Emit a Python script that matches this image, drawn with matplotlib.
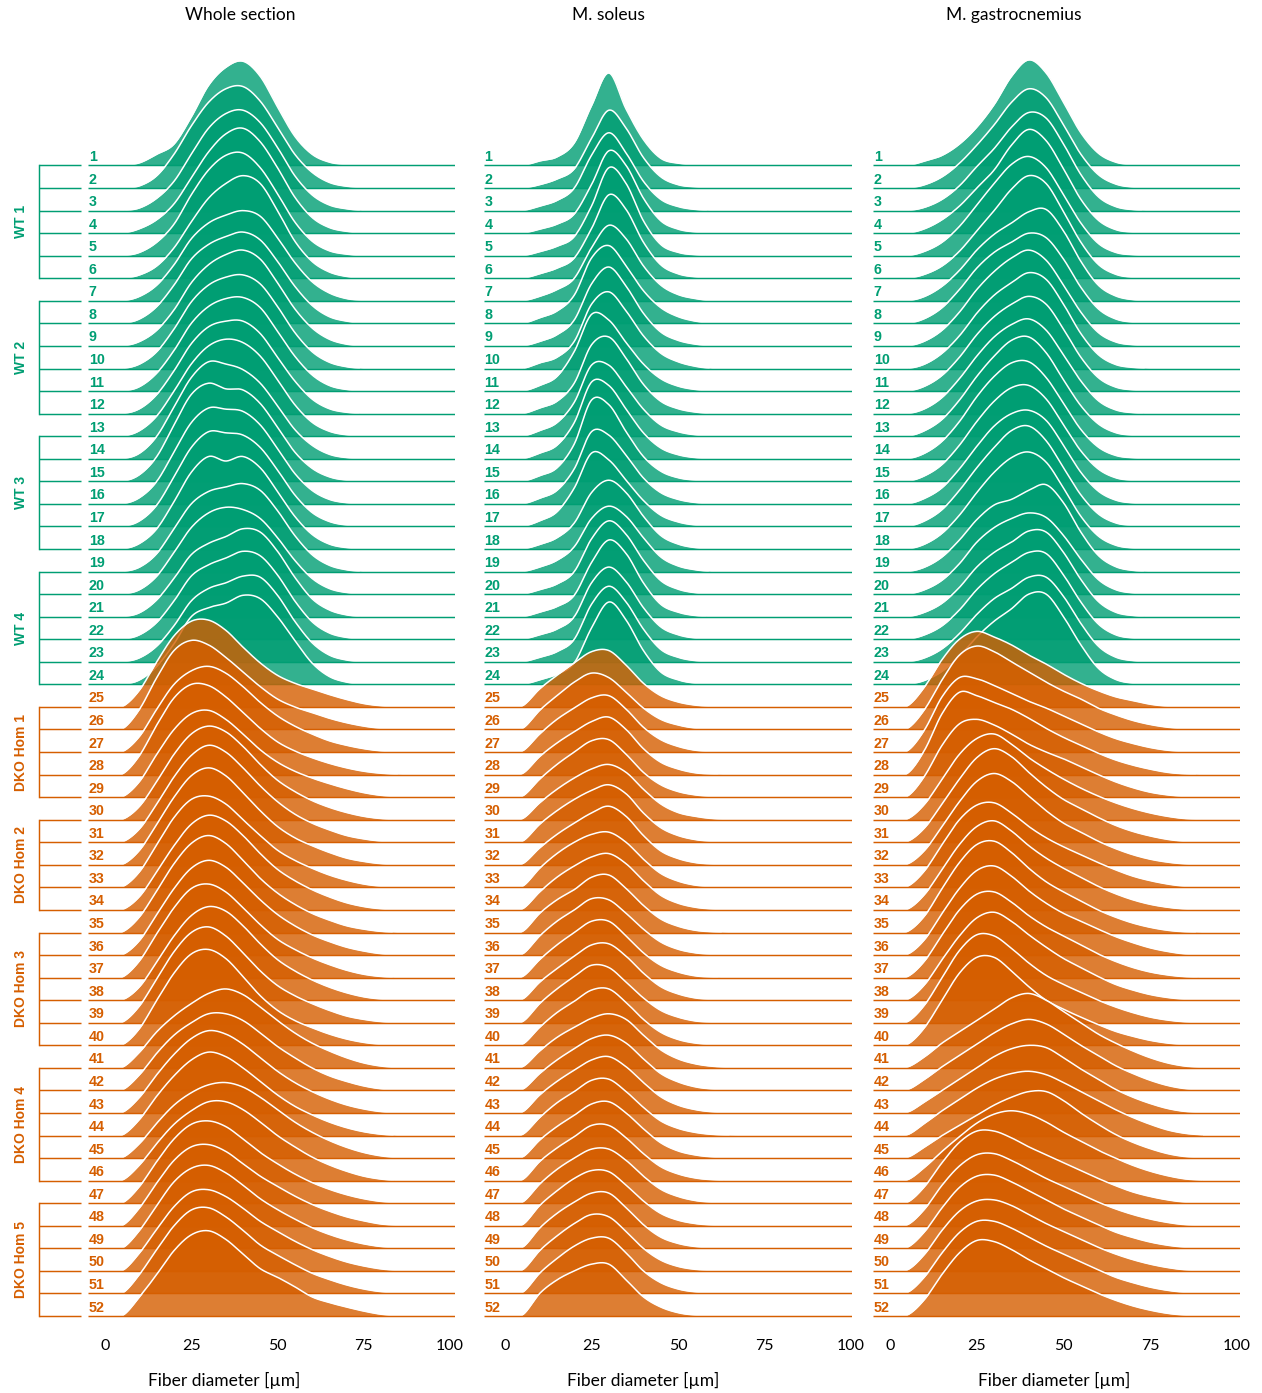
import matplotlib

matplotlib.use("Agg")
import matplotlib.pyplot as plt
import numpy as np

GREEN = "#009E73"
ORANGE = "#D55E00"

# fiber diameter grid (µm) at which each ridge height is given
diameter_um = [0, 5, 10, 15, 20, 25, 30, 35, 40, 45, 50, 55, 60, 65, 70, 75, 80, 85, 90]

sample_ids = list(range(1, 53))
n_wt = 24

group_names = ["WT 1", "WT 2", "WT 3", "WT 4",
               "DKO Hom 1", "DKO Hom 2", "DKO Hom 3", "DKO Hom 4", "DKO Hom 5"]
group_first = [1, 7, 13, 19, 25, 30, 35, 41, 47]
group_last = [6, 12, 18, 24, 29, 34, 40, 46, 52]

panel_titles = ["Whole section", "M. soleus", "M. gastrocnemius"]
tick_values = [0, 25, 50, 75, 100]
x_label = "Fiber diameter [µm]"

# ridge heights in row units (1 = spacing between two baselines)
whole_wt = [
    [0, 0, .12, .5, .95, 2.15, 3.55, 4.35, 4.62, 3.95, 2.6, 1.3, .5, .15, .04],
    [0, 0, .1, .55, 1.5, 2.75, 3.8, 4.4, 4.5, 3.85, 2.7, 1.5, .7, .25, .08, .02],
    [0, 0, .12, .55, 1.3, 2.5, 3.65, 4.3, 4.45, 3.9, 2.8, 1.55, .7, .25, .08],
    [0, 0, .2, .6, 1.3, 2.45, 3.6, 4.4, 4.65, 4.05, 2.9, 1.6, .7, .25, .08],
    [0, 0, .15, .6, 1.4, 2.7, 3.8, 4.45, 4.55, 3.9, 2.75, 1.5, .65, .22, .07],
    [0, 0, .15, .55, 1.35, 2.5, 3.55, 4.2, 4.55, 4.2, 3.0, 1.65, .75, .28, .08],
    [0, 0, .2, .7, 1.6, 2.75, 3.45, 3.8, 4.0, 3.75, 2.8, 1.7, .85, .35, .1, .02],
    [0, 0, .2, .75, 1.7, 2.85, 3.5, 3.85, 4.05, 3.7, 2.75, 1.65, .8, .3, .1],
    [0, 0, .2, .7, 1.6, 2.8, 3.6, 4.05, 4.25, 3.85, 2.8, 1.65, .8, .3, .08],
    [0, 0, .2, .75, 1.75, 2.95, 3.7, 4.05, 4.15, 3.75, 2.75, 1.6, .75, .28, .08],
    [0, 0, .2, .8, 1.8, 3.0, 3.75, 4.1, 4.15, 3.7, 2.65, 1.55, .72, .25, .07],
    [0, 0, .22, .85, 1.9, 3.1, 3.85, 4.1, 4.1, 3.55, 2.5, 1.45, .65, .22, .06],
    [0, 0, .25, .9, 2.0, 3.2, 4.0, 4.3, 4.15, 3.55, 2.5, 1.4, .62, .22, .06],
    [0, 0, .25, 1.0, 2.3, 3.6, 4.3, 4.2, 3.95, 3.35, 2.35, 1.3, .6, .2, .05],
    [0, 0, .3, 1.1, 2.5, 3.85, 4.35, 4.1, 4.05, 3.45, 2.4, 1.3, .58, .2, .05],
    [0, 0, .28, 1.0, 2.3, 3.6, 4.25, 4.2, 4.1, 3.5, 2.45, 1.35, .6, .2, .05],
    [0, 0, .25, .95, 2.2, 3.5, 4.2, 4.15, 4.05, 3.5, 2.5, 1.4, .62, .22, .06],
    [0, 0, .25, .9, 2.1, 3.4, 4.1, 3.9, 4.1, 3.6, 2.55, 1.45, .65, .22, .06],
    [0, 0, .2, .8, 1.9, 3.0, 3.55, 3.75, 3.9, 3.6, 2.7, 1.6, .75, .28, .08],
    [0, 0, .2, .8, 1.85, 2.95, 3.6, 3.85, 3.75, 3.35, 2.5, 1.5, .7, .25, .07],
    [0, 0, .18, .75, 1.7, 2.75, 3.25, 3.55, 3.9, 3.75, 2.9, 1.75, .8, .3, .08],
    [0, 0, .2, .75, 1.7, 2.8, 3.3, 3.6, 3.9, 3.7, 2.85, 1.7, .78, .28, .08],
    [0, 0, .18, .7, 1.6, 2.7, 3.25, 3.5, 3.8, 3.75, 2.95, 1.8, .85, .3, .08],
    [0, 0, .2, .8, 1.8, 3.0, 3.4, 3.6, 3.95, 3.8, 3.0, 1.95, .95, .35, .1],
]

whole_dko = [
    [0, .02, .75, 2.0, 3.15, 3.8, 3.85, 3.4, 2.65, 1.95, 1.4, 1.05, .8, .55, .33, .15, .05],
    [0, .03, .9, 2.3, 3.5, 3.95, 3.75, 3.2, 2.55, 1.9, 1.35, 1.0, .75, .5, .3, .15, .05],
    [0, .02, .7, 1.9, 3.0, 3.6, 3.8, 3.5, 2.9, 2.2, 1.6, 1.15, .8, .5, .3, .15, .05],
    [0, .03, .85, 2.2, 3.4, 4.0, 3.95, 3.45, 2.75, 2.05, 1.45, 1.05, .75, .5, .3, .15, .06, .01],
    [0, .02, .7, 1.9, 3.0, 3.7, 3.85, 3.45, 2.8, 2.1, 1.55, 1.15, .85, .6, .38, .2, .08, .02],
    [0, .02, .6, 1.7, 2.9, 3.8, 4.15, 3.9, 3.25, 2.45, 1.75, 1.25, .85, .55, .32, .15, .05],
    [0, .02, .6, 1.7, 2.9, 3.85, 4.3, 4.0, 3.3, 2.5, 1.8, 1.25, .85, .55, .3, .15, .05],
    [0, .02, .65, 1.8, 3.0, 3.95, 4.3, 3.95, 3.2, 2.4, 1.7, 1.2, .85, .55, .3, .15, .05],
    [0, .03, .7, 1.9, 3.1, 3.9, 4.05, 3.7, 3.0, 2.3, 1.65, 1.2, .85, .55, .32, .15, .05],
    [0, .02, .6, 1.7, 2.85, 3.8, 4.2, 3.95, 3.3, 2.5, 1.8, 1.3, .9, .58, .32, .15, .05],
    [0, .03, .7, 1.85, 3.05, 3.95, 4.3, 3.95, 3.2, 2.4, 1.75, 1.25, .85, .55, .3, .15, .05],
    [0, .02, .65, 1.8, 2.95, 3.85, 4.2, 3.9, 3.2, 2.45, 1.8, 1.3, .9, .6, .35, .18, .06],
    [0, .03, .75, 1.95, 3.1, 3.95, 4.15, 3.8, 3.1, 2.35, 1.7, 1.25, .88, .58, .33, .15, .05],
    [0, .02, .6, 1.7, 2.85, 3.75, 4.15, 3.95, 3.3, 2.5, 1.8, 1.3, .9, .58, .33, .15, .05],
    [0, .03, .75, 1.95, 3.15, 4.0, 4.25, 3.85, 3.1, 2.3, 1.65, 1.2, .85, .55, .3, .15, .05],
    [0, .03, .75, 2.0, 3.2, 4.05, 4.25, 3.85, 3.05, 2.2, 1.55, 1.1, .78, .5, .28, .13, .04],
    [0, .03, .7, 1.6, 2.3, 2.85, 3.3, 3.5, 3.25, 2.7, 2.1, 1.55, 1.1, .75, .45, .22, .08, .01],
    [0, .03, .7, 1.65, 2.45, 3.0, 3.4, 3.4, 3.1, 2.55, 1.95, 1.45, 1.0, .65, .4, .2, .07],
    [0, .03, .7, 1.7, 2.6, 3.3, 3.65, 3.5, 3.05, 2.45, 1.85, 1.35, .95, .62, .36, .18, .06],
    [0, .03, .72, 1.75, 2.65, 3.35, 3.7, 3.5, 3.0, 2.4, 1.8, 1.3, .92, .6, .35, .17, .06],
    [0, .03, .65, 1.55, 2.35, 2.9, 3.25, 3.35, 3.15, 2.7, 2.15, 1.6, 1.15, .78, .48, .25, .1, .02],
    [0, .03, .7, 1.65, 2.5, 3.1, 3.5, 3.5, 3.15, 2.6, 2.0, 1.5, 1.05, .7, .42, .2, .07],
    [0, .02, .75, 1.85, 2.85, 3.5, 3.65, 3.4, 2.85, 2.25, 1.75, 1.3, .92, .62, .38, .2, .08, .02],
    [0, .02, .8, 1.9, 2.9, 3.5, 3.6, 3.3, 2.75, 2.2, 1.75, 1.32, .95, .65, .4, .22, .08, .02],
    [0, .02, .8, 1.9, 2.95, 3.55, 3.68, 3.35, 2.8, 2.2, 1.72, 1.3, .92, .62, .38, .2, .08, .02],
    [0, .02, .8, 1.85, 2.85, 3.5, 3.6, 3.3, 2.78, 2.2, 1.75, 1.32, .95, .65, .4, .22, .09, .02],
    [0, .02, .85, 1.95, 3.0, 3.7, 3.8, 3.4, 2.8, 2.15, 1.7, 1.28, .9, .62, .38, .2, .08, .02],
    [0, .02, .85, 1.85, 2.9, 3.6, 3.78, 3.4, 2.75, 2.1, 1.72, 1.3, .85, .6, .4, .22, .08, .01],
]

soleus_wt = [
    [0, 0, .2, .38, 1.0, 2.65, 4.1, 2.5, 1.15, .32, .1, .03],
    [0, 0, .15, .4, .85, 2.2, 3.45, 2.65, 1.35, .5, .15, .05],
    [0, 0, .2, .45, 1.0, 2.45, 3.45, 2.55, 1.3, .5, .18, .05],
    [0, 0, .18, .4, .85, 2.15, 3.65, 3.0, 1.55, .55, .18, .05],
    [0, 0, .18, .42, .85, 2.2, 3.9, 3.2, 1.55, .5, .15, .04],
    [0, 0, .2, .45, .9, 2.2, 3.7, 3.05, 1.6, .6, .2, .06],
    [0, 0, .2, .5, 1.0, 2.35, 3.35, 2.75, 1.55, .7, .28, .1],
    [0, 0, .25, .55, 1.25, 2.9, 3.45, 2.55, 1.45, .7, .3, .1],
    [0, 0, .2, .5, 1.15, 2.75, 3.5, 2.65, 1.45, .62, .25, .08],
    [0, 0, .25, .5, 1.2, 2.85, 3.4, 2.55, 1.45, .68, .3, .1],
    [0, 0, .25, .65, 1.75, 3.4, 3.15, 2.15, 1.2, .55, .22, .07],
    [0, 0, .25, .55, 1.35, 3.05, 3.4, 2.45, 1.3, .55, .22, .07],
    [0, 0, .25, .6, 1.5, 3.15, 3.15, 2.2, 1.2, .5, .2, .06],
    [0, 0, .25, .6, 1.6, 3.4, 3.25, 2.2, 1.15, .48, .18, .05],
    [0, 0, .25, .6, 1.65, 3.6, 3.4, 2.2, 1.1, .45, .16, .05],
    [0, 0, .25, .6, 1.55, 3.2, 3.05, 2.15, 1.15, .5, .2, .06],
    [0, 0, .25, .65, 1.7, 3.25, 2.95, 2.05, 1.15, .5, .2, .06],
    [0, 0, .2, .5, 1.15, 2.5, 3.05, 2.5, 1.45, .6, .22, .06],
    [0, 0, .2, .5, 1.1, 2.35, 2.9, 2.45, 1.5, .65, .25, .08],
    [0, 0, .2, .45, 1.0, 2.45, 3.25, 2.65, 1.5, .6, .22, .06],
    [0, 0, .2, .45, .95, 2.4, 3.4, 2.8, 1.5, .55, .2, .05],
    [0, 0, .2, .45, 1.0, 2.5, 3.2, 2.55, 1.4, .55, .2, .05],
    [0, 0, .2, .45, 1.0, 2.55, 3.35, 2.65, 1.45, .55, .2, .05],
    [0, 0, .2, .45, .95, 2.5, 3.65, 2.85, 1.5, .55, .2, .05],
]

soleus_dko = [
    [0, .05, .8, 1.4, 1.95, 2.45, 2.5, 1.85, 1.05, .5, .22, .08, .02],
    [0, .05, .85, 1.5, 2.1, 2.5, 2.3, 1.65, .95, .45, .2, .06],
    [0, .05, .8, 1.45, 1.95, 2.4, 2.5, 1.9, 1.1, .55, .25, .08, .02],
    [0, .05, .8, 1.4, 1.9, 2.35, 2.55, 2.0, 1.15, .55, .25, .08, .02],
    [0, .05, .8, 1.45, 2.0, 2.5, 2.55, 1.9, 1.1, .55, .25, .1, .03],
    [0, .05, .75, 1.35, 1.85, 2.25, 2.45, 2.1, 1.35, .7, .32, .15, .05, .01],
    [0, .05, .8, 1.4, 1.9, 2.3, 2.55, 2.15, 1.3, .65, .3, .12, .04],
    [0, .05, .75, 1.35, 1.85, 2.3, 2.6, 2.15, 1.3, .62, .28, .1, .03],
    [0, .05, .85, 1.5, 2.0, 2.35, 2.45, 2.0, 1.25, .62, .28, .1, .03],
    [0, .05, .8, 1.45, 1.95, 2.35, 2.5, 2.05, 1.3, .65, .3, .12, .04],
    [0, .05, .85, 1.45, 1.9, 2.45, 2.55, 1.95, 1.2, .6, .28, .1, .03],
    [0, .05, .85, 1.5, 2.0, 2.5, 2.45, 1.85, 1.15, .58, .26, .1, .03],
    [0, .05, .8, 1.45, 2.0, 2.5, 2.5, 1.85, 1.1, .55, .25, .08, .02],
    [0, .05, .8, 1.4, 1.95, 2.45, 2.5, 1.95, 1.2, .6, .28, .1, .03],
    [0, .05, .85, 1.5, 2.05, 2.55, 2.45, 1.8, 1.1, .55, .25, .08, .02],
    [0, .05, .8, 1.45, 1.95, 2.45, 2.5, 1.9, 1.15, .58, .26, .1, .03],
    [0, .05, .75, 1.35, 1.8, 2.2, 2.4, 2.15, 1.45, .8, .4, .18, .07, .02],
    [0, .05, .75, 1.35, 1.85, 2.3, 2.45, 2.1, 1.4, .75, .38, .16, .06, .02],
    [0, .05, .8, 1.4, 1.9, 2.35, 2.5, 2.05, 1.35, .72, .35, .15, .05, .01],
    [0, .05, .8, 1.45, 1.95, 2.45, 2.5, 1.95, 1.25, .65, .32, .14, .05, .01],
    [0, .05, .8, 1.4, 1.9, 2.4, 2.5, 2.0, 1.3, .68, .32, .14, .05, .01],
    [0, .05, .85, 1.45, 1.95, 2.45, 2.45, 1.9, 1.2, .62, .3, .12, .04],
    [0, .05, .85, 1.5, 2.0, 2.4, 2.4, 1.9, 1.2, .62, .3, .12, .04],
    [0, .05, .9, 1.55, 2.1, 2.45, 2.4, 1.8, 1.1, .55, .25, .1, .03],
    [0, .05, .9, 1.55, 2.05, 2.45, 2.45, 1.8, 1.05, .5, .22, .08, .02],
    [0, .05, .9, 1.55, 2.1, 2.5, 2.4, 1.75, 1.0, .48, .2, .07, .02],
    [0, .05, .9, 1.55, 2.1, 2.45, 2.45, 1.8, 1.0, .48, .2, .07, .02],
    [0, .05, 1.0, 1.6, 2.0, 2.3, 2.3, 1.6, .85, .4, .15, .04],
]

gastro_wt = [
    [0, 0, .2, .45, .95, 1.7, 2.7, 3.95, 4.68, 4.1, 2.8, 1.45, .55, .15, .03],
    [0, 0, .15, .5, 1.1, 1.9, 2.8, 3.8, 4.4, 4.0, 2.8, 1.5, .6, .18, .04],
    [0, 0, .15, .5, 1.1, 1.95, 2.75, 3.7, 4.35, 4.1, 2.95, 1.6, .62, .18, .04],
    [0, 0, .2, .6, 1.2, 2.0, 2.8, 3.9, 4.6, 4.1, 2.85, 1.5, .58, .16, .04],
    [0, 0, .2, .6, 1.3, 2.25, 3.2, 4.05, 4.4, 3.9, 2.7, 1.45, .55, .15, .04],
    [0, 0, .18, .55, 1.2, 2.1, 3.0, 3.95, 4.55, 4.2, 2.95, 1.6, .62, .18, .04],
    [0, 0, .2, .65, 1.35, 2.25, 2.95, 3.45, 3.95, 4.05, 3.1, 1.75, .7, .22, .05],
    [0, 0, .22, .7, 1.5, 2.45, 3.15, 3.6, 4.0, 3.8, 2.85, 1.6, .65, .2, .05],
    [0, 0, .22, .7, 1.5, 2.5, 3.3, 3.9, 4.25, 3.8, 2.7, 1.5, .6, .18, .05],
    [0, 0, .2, .68, 1.45, 2.45, 3.25, 3.8, 4.25, 3.95, 2.85, 1.55, .62, .18, .05],
    [0, 0, .22, .7, 1.5, 2.5, 3.3, 3.85, 4.2, 3.85, 2.75, 1.5, .6, .18, .05],
    [0, 0, .22, .72, 1.55, 2.55, 3.4, 3.95, 4.2, 3.7, 2.6, 1.45, .58, .17, .04],
    [0, 0, .25, .75, 1.6, 2.65, 3.55, 4.25, 4.4, 3.7, 2.5, 1.35, .55, .16, .04],
    [0, 0, .25, .78, 1.65, 2.75, 3.65, 4.25, 4.3, 3.6, 2.45, 1.3, .52, .15, .04],
    [0, 0, .25, .75, 1.6, 2.65, 3.55, 4.15, 4.25, 3.65, 2.5, 1.35, .55, .16, .04],
    [0, 0, .25, .72, 1.55, 2.55, 3.45, 4.0, 4.15, 3.7, 2.6, 1.4, .57, .17, .04],
    [0, 0, .25, .75, 1.6, 2.6, 3.5, 4.25, 4.45, 3.8, 2.6, 1.4, .56, .16, .04],
    [0, 0, .22, .7, 1.5, 2.5, 3.4, 4.05, 4.3, 3.85, 2.7, 1.45, .58, .17, .04],
    [0, 0, .2, .65, 1.4, 2.3, 2.95, 3.2, 3.6, 3.85, 3.05, 1.75, .72, .22, .05],
    [0, 0, .2, .62, 1.35, 2.3, 2.95, 3.35, 3.6, 3.4, 2.6, 1.55, .65, .2, .05],
    [0, 0, .2, .6, 1.3, 2.2, 2.85, 3.3, 3.8, 3.75, 2.85, 1.65, .68, .2, .05],
    [0, 0, .2, .6, 1.3, 2.2, 2.9, 3.4, 3.85, 3.8, 2.85, 1.65, .68, .2, .05],
    [0, 0, .18, .58, 1.25, 2.1, 2.8, 3.25, 3.75, 3.75, 2.9, 1.7, .7, .21, .05],
    [0, 0, .18, .58, 1.25, 2.1, 2.8, 3.35, 4.0, 4.0, 3.0, 1.75, .72, .22, .05],
]

gastro_dko = [
    [0, .05, .9, 2.1, 3.0, 3.35, 3.1, 2.75, 2.3, 1.9, 1.45, 1.05, .72, .45, .28, .12, .03],
    [0, .05, .9, 2.2, 3.3, 3.7, 3.45, 3.0, 2.55, 2.1, 1.7, 1.35, .95, .65, .4, .22, .1, .03],
    [0, .06, 1.0, 2.45, 3.3, 3.25, 2.95, 2.6, 2.25, 1.95, 1.6, 1.25, .9, .6, .38, .2, .08, .02],
    [0, .06, 1.1, 2.7, 3.65, 3.5, 3.2, 2.9, 2.5, 2.05, 1.65, 1.3, .95, .65, .42, .24, .1, .03],
    [0, .05, .95, 2.3, 3.25, 3.45, 3.2, 2.8, 2.35, 2.0, 1.7, 1.35, 1.0, .68, .42, .22, .1, .03],
    [0, .04, .7, 1.8, 2.9, 3.6, 3.8, 3.35, 2.75, 2.25, 1.8, 1.4, 1.05, .75, .5, .3, .15, .05, .01],
    [0, .04, .65, 1.7, 2.8, 3.75, 4.15, 3.8, 3.1, 2.45, 1.9, 1.5, 1.1, .75, .48, .28, .13, .04],
    [0, .04, .65, 1.7, 2.8, 3.7, 4.05, 3.7, 3.05, 2.4, 1.85, 1.45, 1.05, .72, .45, .25, .12, .04],
    [0, .05, .75, 1.9, 3.0, 3.65, 3.75, 3.3, 2.7, 2.2, 1.8, 1.45, 1.1, .78, .5, .3, .15, .05, .01],
    [0, .04, .7, 1.8, 2.9, 3.7, 3.95, 3.5, 2.85, 2.3, 1.85, 1.45, 1.05, .72, .45, .25, .12, .04],
    [0, .05, .75, 1.95, 3.1, 3.9, 4.05, 3.55, 2.85, 2.25, 1.8, 1.4, 1.0, .68, .42, .23, .1, .03],
    [0, .04, .7, 1.85, 2.95, 3.75, 3.95, 3.5, 2.85, 2.3, 1.85, 1.5, 1.15, .82, .55, .32, .16, .05, .01],
    [0, .05, .75, 1.9, 3.0, 3.7, 3.8, 3.35, 2.75, 2.25, 1.85, 1.45, 1.05, .72, .45, .25, .12, .04],
    [0, .04, .7, 1.8, 2.85, 3.65, 3.9, 3.5, 2.9, 2.35, 1.85, 1.45, 1.05, .7, .45, .25, .12, .04],
    [0, .05, .8, 2.0, 3.2, 3.9, 3.85, 3.3, 2.65, 2.1, 1.7, 1.35, 1.0, .7, .45, .25, .12, .04],
    [0, .05, .8, 2.0, 3.2, 3.9, 3.9, 3.3, 2.6, 2.0, 1.6, 1.25, .92, .62, .4, .22, .1, .03],
    [0, .04, .5, 1.1, 1.6, 2.1, 2.6, 3.1, 3.3, 3.0, 2.5, 2.0, 1.5, 1.1, .75, .45, .22, .08, .02],
    [0, .04, .5, 1.05, 1.55, 2.05, 2.55, 2.95, 3.15, 2.95, 2.5, 2.0, 1.55, 1.1, .75, .45, .22, .08, .02],
    [0, .04, .5, 1.0, 1.5, 2.0, 2.5, 2.85, 3.0, 2.9, 2.45, 1.95, 1.5, 1.05, .7, .42, .2, .07, .02],
    [0, .04, .55, 1.1, 1.6, 2.1, 2.5, 2.75, 2.85, 2.7, 2.35, 1.95, 1.55, 1.15, .8, .5, .25, .1, .03],
    [0, .04, .5, 1.0, 1.45, 1.9, 2.35, 2.7, 2.95, 2.95, 2.55, 2.0, 1.5, 1.05, .7, .42, .2, .07, .02],
    [0, .04, .6, 1.3, 1.95, 2.55, 2.95, 3.1, 2.95, 2.6, 2.15, 1.75, 1.35, 1.0, .68, .42, .22, .08, .02],
    [0, .05, .75, 1.8, 2.7, 3.2, 3.2, 2.9, 2.5, 2.15, 1.8, 1.45, 1.1, .78, .5, .3, .15, .05, .01],
    [0, .05, .75, 1.8, 2.65, 3.15, 3.2, 2.9, 2.5, 2.1, 1.75, 1.4, 1.05, .75, .5, .3, .15, .05, .01],
    [0, .05, .75, 1.8, 2.7, 3.2, 3.25, 2.95, 2.55, 2.15, 1.75, 1.4, 1.05, .72, .48, .28, .14, .05, .01],
    [0, .05, .75, 1.8, 2.65, 3.1, 3.15, 2.9, 2.5, 2.1, 1.75, 1.4, 1.05, .75, .5, .3, .15, .05, .01],
    [0, .05, .75, 1.8, 2.7, 3.2, 3.2, 2.9, 2.5, 2.1, 1.75, 1.4, 1.05, .72, .48, .28, .14, .05, .01],
    [0, .05, .75, 1.85, 2.8, 3.35, 3.3, 2.95, 2.5, 2.1, 1.7, 1.35, 1.0, .7, .45, .26, .12, .04],
]

panel_profiles = [whole_wt + whole_dko, soleus_wt + soleus_dko, gastro_wt + gastro_dko]

# page layout in pixels (figure is 1262 x 1393 px)
FIG_W, FIG_H = 1262, 1393
ROW_PX = 22.56
FIRST_BASE_PX = 165.5
AX_TOP_PX, AX_BOTTOM_PX = 40, 1325
panel_zero_px = [105, 505, 890]
panel_px_per_um = [3.45, 3.46, 3.47]
panel_xlim = [(-5, 101.5), (-6.2, 100.2), (-5, 101)]
title_x_px = [240, 608, 1014]
xlabel_x_px = [224, 643, 1054]

LABEL_FONT = ["Liberation Sans", "DejaVu Sans"]
TEXT_FONT = ["Lato", "DejaVu Sans"]


def smooth_profile(xs, heights, step=0.25):
    """Cubic Hermite (Catmull-Rom) curve through the sampled heights."""
    xs = np.asarray(xs, float)
    ys = np.zeros(len(xs))
    ys[:len(heights)] = heights
    slopes = np.gradient(ys, xs)
    xf = np.arange(xs[0], xs[-1] + step / 2, step)
    i = np.clip(np.searchsorted(xs, xf, side="right") - 1, 0, len(xs) - 2)
    h = xs[i + 1] - xs[i]
    t = (xf - xs[i]) / h
    h00 = 2 * t**3 - 3 * t**2 + 1
    h10 = t**3 - 2 * t**2 + t
    h01 = -2 * t**3 + 3 * t**2
    h11 = t**3 - t**2
    yf = h00 * ys[i] + h10 * h * slopes[i] + h01 * ys[i + 1] + h11 * h * slopes[i + 1]
    return xf, np.clip(yf, 0, None)


def draw_panel(ax, profiles, x_min, x_max):
    for k, prof in enumerate(profiles):
        base = -k
        color = GREEN if k < n_wt else ORANGE
        xf, hf = smooth_profile(diameter_um, prof)
        z = 3 * k + 2
        ax.fill_between(xf, base, base + hf, color=color, alpha=0.8, lw=0, zorder=z)
        ax.plot(xf, np.where(hf > 0.01, base + hf, np.nan), color="white", lw=1.1,
                zorder=z + 1, solid_capstyle="round")
        ax.plot([x_min, x_max], [base, base], color=color, lw=1.05, zorder=z + 2,
                solid_capstyle="butt")
        ax.text(x_min + 0.3, base + 0.2, str(sample_ids[k]), color=color,
                fontsize=10.3, fontweight="bold", family=LABEL_FONT,
                ha="left", va="baseline", zorder=500)


fig = plt.figure(figsize=(FIG_W / 100, FIG_H / 100), dpi=100)
y_top = (FIRST_BASE_PX - AX_TOP_PX) / ROW_PX
y_bottom = (FIRST_BASE_PX - AX_BOTTOM_PX) / ROW_PX

axes = []
for p in range(3):
    x_min, x_max = panel_xlim[p]
    left_px = panel_zero_px[p] + x_min * panel_px_per_um[p]
    width_px = (x_max - x_min) * panel_px_per_um[p]
    ax = fig.add_axes([left_px / FIG_W, 1 - AX_BOTTOM_PX / FIG_H,
                       width_px / FIG_W, (AX_BOTTOM_PX - AX_TOP_PX) / FIG_H])
    ax.set_xlim(x_min, x_max)
    ax.set_ylim(y_bottom, y_top)
    draw_panel(ax, panel_profiles[p], x_min, x_max)
    ax.set_xticks(tick_values)
    ax.set_xticklabels([str(v) for v in tick_values], family=TEXT_FONT, fontsize=11.5)
    ax.tick_params(axis="x", length=0, pad=10)
    ax.set_yticks([])
    for side in ax.spines.values():
        side.set_visible(False)
    fig.text(title_x_px[p] / FIG_W, 1 - 15 / FIG_H, panel_titles[p], family=TEXT_FONT,
             fontsize=12.5, ha="center", va="center")
    fig.text(xlabel_x_px[p] / FIG_W, 1 - 1380 / FIG_H, x_label, family=TEXT_FONT,
             fontsize=12.5, ha="center", va="center")
    axes.append(ax)

# sample group brackets on the left of the first panel
ax0 = axes[0]
bar_x = (39 - panel_zero_px[0]) / panel_px_per_um[0]
tick_end_x = (81 - panel_zero_px[0]) / panel_px_per_um[0]
name_x = (21 - panel_zero_px[0]) / panel_px_per_um[0]
for name, first, last in zip(group_names, group_first, group_last):
    color = GREEN if first <= n_wt else ORANGE
    y_first, y_last = -(first - 1), -(last - 1)
    ax0.plot([bar_x, bar_x], [y_first, y_last], color=color, lw=1.05, clip_on=False,
             solid_capstyle="projecting")
    for r in range(first, last + 1):
        ax0.plot([bar_x, tick_end_x], [-(r - 1), -(r - 1)], color=color, lw=1.05,
                 clip_on=False, solid_capstyle="butt")
    ax0.text(name_x, (y_first + y_last) / 2, name, rotation=90, color=color,
             fontsize=10, fontweight="bold", family=LABEL_FONT,
             ha="center", va="center", clip_on=False)

fig.savefig("out.png", dpi=100)
